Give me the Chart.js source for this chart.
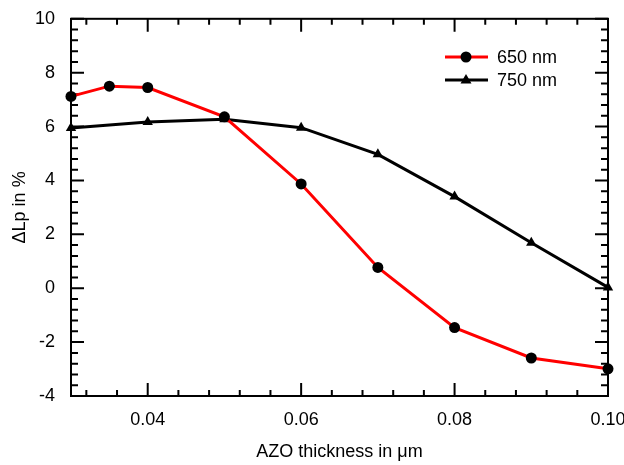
<!DOCTYPE html>
<html>
<head>
  <meta charset="utf-8" />
  <title>ΔLp vs AZO thickness</title>
  <style>
    html, body { margin: 0; padding: 0; background: #fff; }
    #wrap { width: 624px; height: 465px; }
  </style>
</head>
<body>
  <div id="wrap"><canvas id="stage"></canvas></div>

  <script src="https://cdn.jsdelivr.net/npm/chart.js@4.4.0/dist/chart.umd.min.js"></script>
  <script>
    // 読み取った値
    const x650 = [0.03, 0.035, 0.04, 0.05, 0.06, 0.07, 0.08, 0.09, 0.10];
    const y650 = [7.12, 7.5, 7.45, 6.36, 3.87, 0.77, -1.46, -2.59, -2.99];
    const x750 = [0.03, 0.04, 0.05, 0.06, 0.07, 0.08, 0.09, 0.10];
    const y750 = [5.95, 6.17, 6.27, 5.96, 4.97, 3.4, 1.69, 0.03];
    const xTicks = [0.04, 0.06, 0.08, 0.10];
    const yTicks = [-4, -2, 0, 2, 4, 6, 8, 10];

    const font = { family: '"Liberation Sans", Arial, sans-serif', size: 18 };

    const toPts = (xs, ys) => xs.map((x, i) => ({ x: x, y: ys[i] }));

    // 枠と内向きの目盛り、凡例を描く
    const framePlugin = {
      id: 'frame',
      beforeDatasetsDraw(chart) {
        const { ctx, chartArea: a, scales: { x, y } } = chart;
        ctx.save();
        ctx.strokeStyle = '#000';
        ctx.lineWidth = 2;
        ctx.strokeRect(a.left, a.top, a.right - a.left, a.bottom - a.top);
        ctx.beginPath();
        for (let i = 0; i <= 35; i++) {
          const v = 0.03 + i * 0.002;
          const k = Math.round(v * 1000);
          if (k % 4 !== 0) continue;
          const len = (k % 20 === 0) ? 13 : 6;
          const px = x.getPixelForValue(v);
          ctx.moveTo(px, a.bottom); ctx.lineTo(px, a.bottom - len);
          ctx.moveTo(px, a.top); ctx.lineTo(px, a.top + len);
        }
        for (let i = 0; i <= 35; i++) {
          const v = -4 + i * 0.4;
          const len = (i % 5 === 0) ? 13 : 7;
          const py = y.getPixelForValue(v);
          ctx.moveTo(a.left, py); ctx.lineTo(a.left + len, py);
          ctx.moveTo(a.right, py); ctx.lineTo(a.right - len, py);
        }
        ctx.stroke();
        ctx.restore();
      },
      afterDraw(chart) {
        const ctx = chart.ctx;
        ctx.save();
        chart.data.datasets.forEach((ds, i) => {
          const cy = 57 + i * 23;
          ctx.strokeStyle = ds.borderColor;
          ctx.lineWidth = 3;
          ctx.beginPath();
          ctx.moveTo(445, cy); ctx.lineTo(488, cy);
          ctx.stroke();
          ctx.fillStyle = '#000';
          ctx.beginPath();
          if (ds.pointStyle === 'triangle') {
            ctx.moveTo(466, cy - 6); ctx.lineTo(471.5, cy + 3.5); ctx.lineTo(460.5, cy + 3.5);
            ctx.closePath();
          } else {
            ctx.arc(466, cy, 5.5, 0, Math.PI * 2);
          }
          ctx.fill();
          ctx.font = '18px ' + font.family;
          ctx.textBaseline = 'middle';
          ctx.fillText(ds.label, 497, cy + 1);
        });
        ctx.restore();
      }
    };

    new Chart(document.getElementById('stage'), {
      type: 'line',
      data: {
        datasets: [{
          label: '650 nm',
          data: toPts(x650, y650),
          borderColor: '#ff0000',
          borderWidth: 3,
          pointStyle: 'circle',
          pointRadius: 5.5,
          pointBackgroundColor: '#000',
          pointBorderColor: '#000',
          pointBorderWidth: 0,
          tension: 0,
          clip: false
        }, {
          label: '750 nm',
          data: toPts(x750, y750),
          borderColor: '#000',
          borderWidth: 3,
          pointStyle: 'triangle',
          pointRadius: 6,
          pointBackgroundColor: '#000',
          pointBorderColor: '#000',
          pointBorderWidth: 0,
          tension: 0,
          clip: false
        }]
      },
      options: {
        responsive: true,
        maintainAspectRatio: false,
        animation: false,
        layout: { padding: { top: 11, right: 0, left: 0, bottom: 0 } },
        plugins: { legend: { display: false }, tooltip: { enabled: false } },
        scales: {
          x: {
            type: 'linear',
            min: 0.03, max: 0.10,
            afterBuildTicks: s => { s.ticks = xTicks.map(v => ({ value: v })); },
            afterFit: s => { s.height = 69; s.paddingRight = 16; s.paddingLeft = 0; },
            grid: { display: false },
            border: { display: false },
            ticks: { color: '#000', font: font, padding: 5, maxRotation: 0,
                     callback: v => v.toFixed(2) },
            title: { display: true, text: 'AZO thickness in μm', color: '#000', font: font,
                     padding: { top: 4, bottom: 2 } }
          },
          y: {
            min: -4, max: 10,
            afterBuildTicks: s => { s.ticks = yTicks.map(v => ({ value: v })); },
            afterFit: s => { s.width = 71; },
            grid: { display: false },
            border: { display: false },
            ticks: { color: '#000', font: font, padding: 8 },
            title: { display: true, text: 'ΔLp in %', color: '#000', font: font,
                     padding: { top: 9, bottom: 0 } }
          }
        }
      },
      plugins: [framePlugin]
    });
  </script>
</body>
</html>
